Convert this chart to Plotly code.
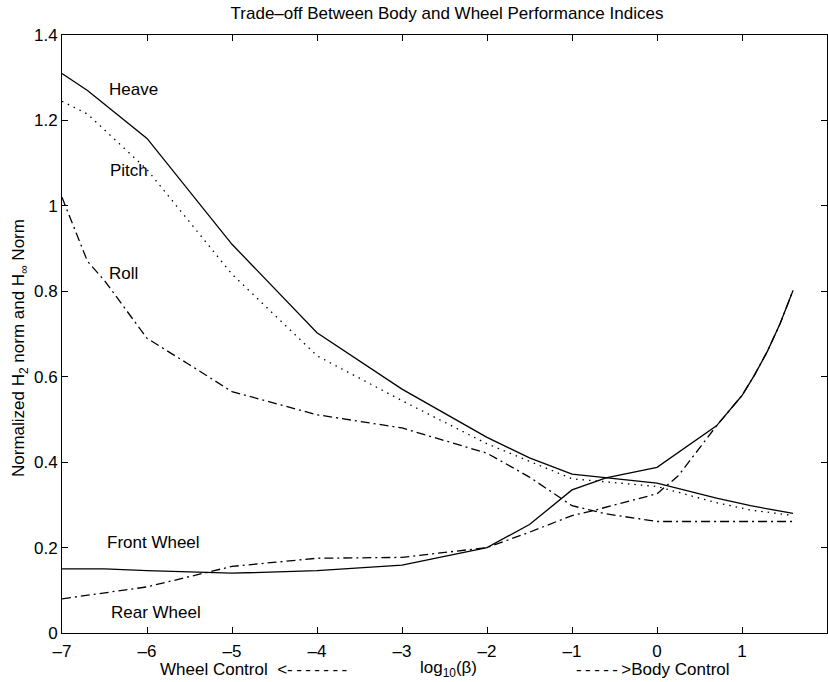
import plotly.graph_objects as go

# ---- data ----
heave_x = [-7, -6.7, -6, -5, -4, -3, -2, -1.5, -1, -0.6, 0, 0.7, 1.1, 1.6]
heave_y = [1.31, 1.27, 1.158, 0.91, 0.703, 0.571, 0.458, 0.41, 0.372, 0.363, 0.351, 0.316, 0.298, 0.280]

pitch_x = [-7, -6.7, -6, -5, -4, -3, -2, -1, 0, 0.7, 1.1, 1.6]
pitch_y = [1.245, 1.215, 1.085, 0.84, 0.649, 0.544, 0.443, 0.361, 0.343, 0.305, 0.288, 0.275]

roll_x = [-7, -6.7, -6.5, -6, -5.5, -5, -4, -3, -2, -1.5, -1, -0.6, 0, 1, 1.6]
roll_y = [1.02, 0.87, 0.825, 0.69, 0.628, 0.565, 0.511, 0.48, 0.421, 0.365, 0.298, 0.279, 0.261, 0.261, 0.261]

front_x = [-7, -6.5, -6, -5, -4, -3, -2, -1.5, -1, -0.6, 0, 0.7, 1, 1.15, 1.3, 1.45, 1.6]
front_y = [0.150, 0.150, 0.146, 0.140, 0.146, 0.159, 0.200, 0.254, 0.335, 0.363, 0.388, 0.485, 0.556, 0.605, 0.66, 0.725, 0.802]

rear_x = [-7, -6, -5, -4, -3, -2, -1.5, -1, -0.8, 0, 0.25, 0.7, 1, 1.15, 1.3, 1.45, 1.6]
rear_y = [0.080, 0.108, 0.156, 0.175, 0.177, 0.200, 0.236, 0.275, 0.284, 0.326, 0.368, 0.485, 0.556, 0.605, 0.66, 0.725, 0.802]

labels = ["Heave", "Pitch", "Roll", "Front Wheel", "Rear Wheel"]
label_x = [-6.47, -6.46, -6.47, -6.49, -6.45]
label_y = [1.272, 1.082, 0.841, 0.213, 0.049]

x_ticks = [-7, -6, -5, -4, -3, -2, -1, 0, 1, 2]
y_ticks = [0, 0.2, 0.4, 0.6, 0.8, 1, 1.2, 1.4]

FONT = "Liberation Sans, Arial, Helvetica, sans-serif"
FS = 17
DASHDOT = "9px,4px,2px,4px"
DOT = "1.5px,5px"

# plot box in pixels: x 62..827, y 35..633
L, R, T, B = 62, 827, 35, 633
W, H = R - L, B - T

fig = go.Figure()
series = [
    (heave_x, heave_y, "solid"),
    (pitch_x, pitch_y, DOT),
    (roll_x, roll_y, DASHDOT),
    (front_x, front_y, "solid"),
    (rear_x, rear_y, DASHDOT),
]
for xs, ys, dash in series:
    fig.add_trace(go.Scatter(x=xs, y=ys, mode="lines",
                             line=dict(color="black", width=1.3, dash=dash),
                             showlegend=False, hoverinfo="skip"))

for t, lx, ly in zip(labels, label_x, label_y):
    fig.add_annotation(x=lx, y=ly, xref="x", yref="y", text=t, showarrow=False,
                       xanchor="left", yanchor="middle",
                       font=dict(family=FONT, size=FS, color="black"))

D = "-\u2009"
bottom = [("Wheel Control  &lt;" + D * 7, (255 - L) / W),
          ("log<sub>10</sub>(β)", (448 - L) / W),
          (D * 5 + "&gt;Body Control", (653 - L) / W)]
for t, px in bottom:
    fig.add_annotation(x=px, y=(B - 669) / H, xref="paper", yref="paper", text=t,
                       showarrow=False, xanchor="center", yanchor="middle",
                       font=dict(family=FONT, size=FS, color="black"))

# y-axis title
fig.add_annotation(x=(20 - L) / W, y=(B - 348) / H, xref="paper", yref="paper",
                   text="Normalized H<sub>2</sub> norm and H<sub>∞</sub> Norm",
                   textangle=-90, showarrow=False, xanchor="center", yanchor="middle",
                   font=dict(family=FONT, size=FS, color="black"))

fig.update_layout(
    width=828, height=682,
    margin=dict(l=L, r=828 - R, t=T, b=682 - B),
    paper_bgcolor="white", plot_bgcolor="white",
    title=dict(text="Trade\u2013off Between Body and Wheel Performance Indices",
               x=447 / 828, xanchor="center", y=1 - 13 / 682, yanchor="middle",
               font=dict(family=FONT, size=FS, color="black")),
    font=dict(family=FONT, size=FS, color="black"),
)
fig.update_xaxes(range=[-7, 2], tickvals=x_ticks, ticktext=[str(v).replace("-", "\u2013") for v in x_ticks],
                 ticks="inside", ticklen=6, tickcolor="black", ticklabelstandoff=3,
                 showline=True, linecolor="black", linewidth=1, mirror="ticks",
                 showgrid=False, zeroline=False,
                 tickfont=dict(family=FONT, size=FS, color="black"))
fig.update_yaxes(range=[0, 1.4], tickvals=y_ticks, ticktext=[("%g" % v) for v in y_ticks],
                 ticks="inside", ticklen=6, tickcolor="black",
                 showline=True, linecolor="black", linewidth=1, mirror="ticks",
                 showgrid=False, zeroline=False,
                 tickfont=dict(family=FONT, size=FS, color="black"))

fig.write_html("out.html")
